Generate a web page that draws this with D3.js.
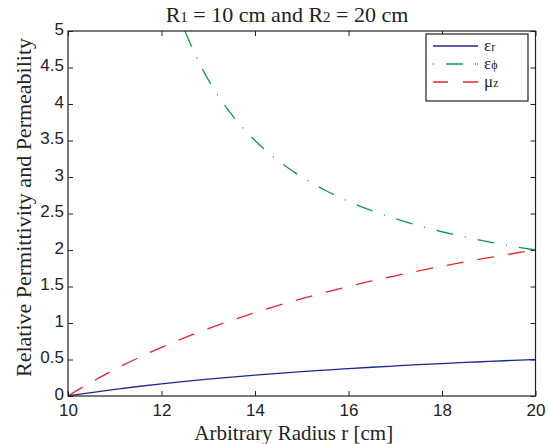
<!DOCTYPE html>
<html><head><meta charset="utf-8">
<script src="https://cdn.jsdelivr.net/npm/d3@7"></script>
<style>
html,body{margin:0;padding:0;background:#fff;}
svg{display:block;}
.tick text{font-family:'Liberation Sans';font-size:17px;fill:#222;}
</style>
</head><body>
<svg id="c" width="548" height="444"></svg>
<script>
const rValues = [10,10.25,10.5,11,11.5,12,12.5,13,13.5,14,14.5,15,15.5,16,16.5,17,17.5,18,18.5,19,19.5,20];
const epsR = [0,0.0244,0.0476,0.0909,0.1304,0.1667,0.2,0.2308,0.2593,0.2857,0.3103,0.3333,0.3548,0.375,0.3939,0.4118,0.4286,0.4444,0.4595,0.4737,0.4872,0.5];
const muZ = [0,0.0976,0.1905,0.3636,0.5217,0.6667,0.8,0.9231,1.037,1.1429,1.2414,1.3333,1.4194,1.5,1.5758,1.6471,1.7143,1.7778,1.8378,1.8947,1.9487,2.0];
const rPhi = [12.5,12.75,13,13.5,14,14.5,15,15.5,16,16.5,17,17.5,18,18.5,19,19.5,20];
const epsPhi = [5.0,4.636,4.333,3.857,3.5,3.222,3.0,2.818,2.667,2.538,2.429,2.333,2.25,2.176,2.111,2.053,2.0];
const xTicks = [10,12,14,16,18,20];
const yTicks = [0,0.5,1,1.5,2,2.5,3,3.5,4,4.5,5];

const SERIF = "'Liberation Serif'";
const L = 68, R = 535.5, T = 31, B = 396;
const svg = d3.select("#c");
const x = d3.scaleLinear().domain([10,20]).range([L,R]);
const y = d3.scaleLinear().domain([0,5]).range([B,T]);

svg.append("defs").append("clipPath").attr("id","clip")
  .append("rect").attr("x",L).attr("y",T).attr("width",R-L).attr("height",B-T);

const tl = 5;
const gx = svg.append("g").attr("transform",`translate(0,${B})`)
  .call(d3.axisBottom(x).tickValues(xTicks).tickFormat(d3.format("d")).tickSizeInner(-tl).tickSizeOuter(0).tickPadding(8));
gx.select(".domain").remove();
gx.selectAll(".tick line").attr("stroke","#222");
const gxt = svg.append("g").attr("transform",`translate(0,${T})`)
  .call(d3.axisTop(x).tickValues(xTicks).tickFormat("").tickSizeInner(-tl).tickSizeOuter(0));
gxt.select(".domain").remove();
gxt.selectAll(".tick line").attr("stroke","#222");
const gy = svg.append("g").attr("transform",`translate(${L},0)`)
  .call(d3.axisLeft(y).tickValues(yTicks).tickFormat(d=>String(d)).tickSizeInner(-tl).tickSizeOuter(0).tickPadding(8));
gy.select(".domain").remove();
gy.selectAll(".tick line").attr("stroke","#222");
gy.selectAll(".tick text").attr("x",-4).attr("dy","0.2em");
const gyr = svg.append("g").attr("transform",`translate(${R},0)`)
  .call(d3.axisRight(y).tickValues(yTicks).tickFormat("").tickSizeInner(-tl).tickSizeOuter(0));
gyr.select(".domain").remove();
gyr.selectAll(".tick line").attr("stroke","#222");

const line = d3.line().x(d=>x(d[0])).y(d=>y(d[1])).curve(d3.curveMonotoneX);
const plot = svg.append("g").attr("clip-path","url(#clip)");
const series = [
  {r:rValues, v:epsR, color:"#1a2a8f", dash:null},
  {r:rPhi, v:epsPhi, color:"#0d9a4a", dash:"17,12,1,12"},
  {r:rValues, v:muZ, color:"#e8252d", dash:"17,14"}
];
series.forEach(s=>{
  plot.append("path").datum(s.r.map((r,i)=>[r,s.v[i]]))
    .attr("d",line).attr("fill","none").attr("stroke",s.color)
    .attr("stroke-width",1.3).attr("stroke-dasharray",s.dash);
});

svg.append("rect").attr("x",L).attr("y",T).attr("width",R-L).attr("height",B-T)
  .attr("fill","none").attr("stroke","#222").attr("stroke-width",1.2);

function stxt(){ return svg.append("text").style("font-family",SERIF).attr("fill","#222"); }

const title = stxt().attr("x",287).attr("y",22).attr("text-anchor","middle").style("font-size","22px");
title.append("tspan").text("R");
title.append("tspan").style("font-size","15px").text("1");
title.append("tspan").text(" = 10 cm and R");
title.append("tspan").style("font-size","15px").text("2");
title.append("tspan").text(" = 20 cm");

stxt().attr("x",(L+R)/2 - 8).attr("y",440).attr("text-anchor","middle").style("font-size","21px")
  .text("Arbitrary Radius r [cm]");
stxt().attr("transform",`translate(31,${(T+B)/2 - 6}) rotate(-90)`).attr("text-anchor","middle")
  .style("font-size","22px").text("Relative Permittivity and Permeability");

const lg = svg.append("g");
lg.append("rect").attr("x",426).attr("y",34).attr("width",102).attr("height",67)
  .attr("fill","#fff").attr("stroke","#222").attr("stroke-width",1.2);
const labels = [["ε","r"],["ε","ϕ"],["μ","z"]];
const ly = [46,64,82];
series.forEach((s,i)=>{
  lg.append("line").attr("x1",433).attr("x2",478).attr("y1",ly[i]).attr("y2",ly[i])
    .attr("stroke",s.color).attr("stroke-width",1.3)
    .attr("stroke-dasharray", i===1 ? "1,12,17,12,1" : (i===2 ? "15,15" : null));
  const t = lg.append("text").style("font-family",SERIF).attr("fill","#222")
    .attr("x",484).attr("y",ly[i]+5).style("font-size","17px");
  t.append("tspan").text(labels[i][0]);
  t.append("tspan").style("font-size","12px").text(labels[i][1]);
});
</script>
</body></html>
